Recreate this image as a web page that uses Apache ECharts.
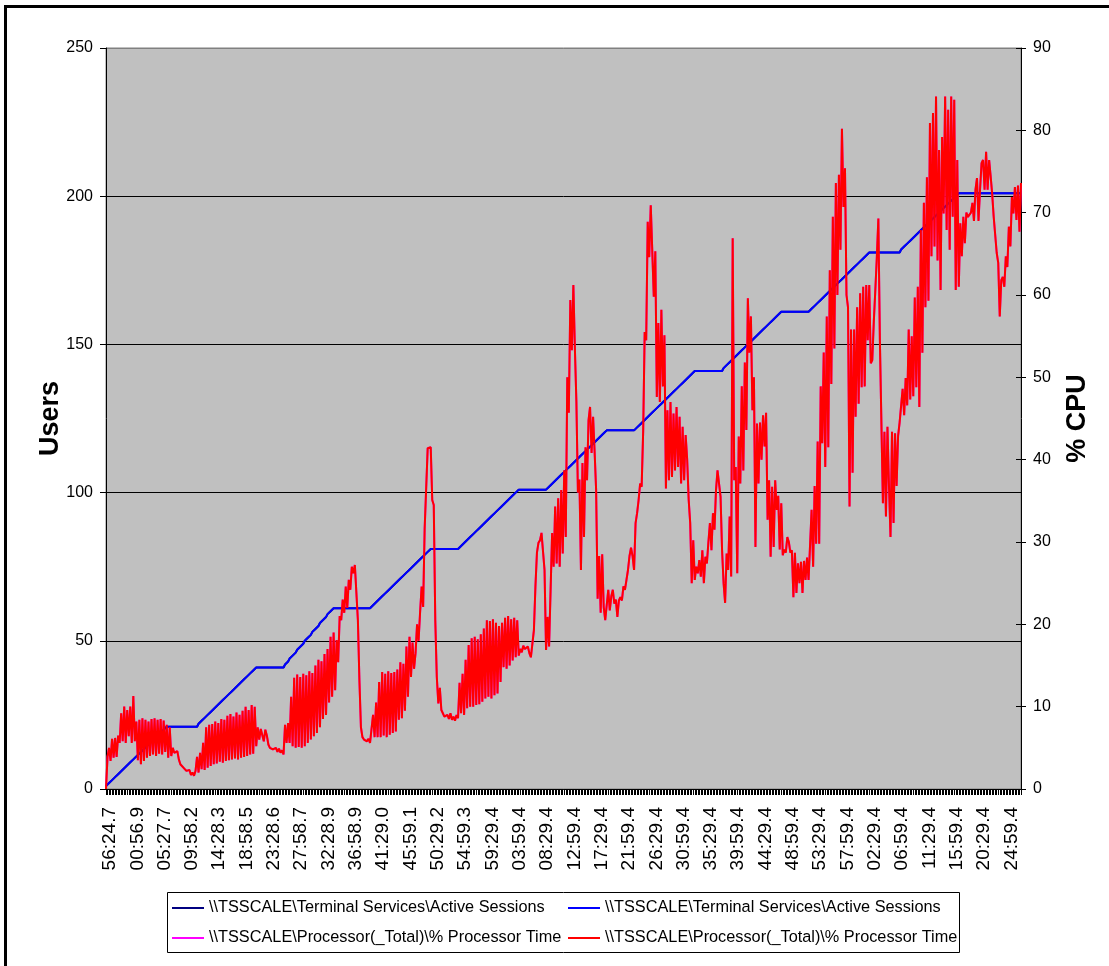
<!DOCTYPE html>
<html>
<head>
<meta charset="utf-8">
<title>TSSCALE – Active Sessions and Processor Time</title>
<script src="https://cdn.jsdelivr.net/npm/echarts@6/dist/echarts.min.js"></script>
<style>
  html, body { margin: 0; padding: 0; background: #fff; overflow: hidden; }
  #chart { width: 1109px; height: 966px; }
</style>
</head>
<body>
<div id="chart"></div>
<script>
// Time-of-sample labels shown on the category axis (one every 18 samples, 15 s apart)
const tickLabels = [
  '56:24.7', '00:56.9', '05:27.7', '09:58.2', '14:28.3', '18:58.5', '23:28.6',
  '27:58.7', '32:28.9', '36:58.9', '41:29.0', '45:59.1', '50:29.2', '54:59.3',
  '59:29.4', '03:59.4', '08:29.4', '12:59.4', '17:29.4', '21:59.4', '26:29.4',
  '30:59.4', '35:29.4', '39:59.4', '44:29.4', '48:59.4', '53:29.4', '57:59.4',
  '02:29.4', '06:59.4', '11:29.4', '15:59.4', '20:29.4', '24:59.4'
];
const samplesPerLabel = 18;

// \\TSSCALE\Terminal Services\Active Sessions (users), one value per sample
const activeSessions = [
  1,1,2,2,3,3,4,4,5,5,6,6,7,7,8,8,9,9,10,10,
  11,11,12,12,13,13,14,14,15,15,16,16,17,17,18,18,19,19,20,20,
  21,21,21,21,21,21,21,21,21,21,21,21,21,21,21,21,21,21,21,21,21,
  22,22,23,23,24,24,25,25,26,26,27,27,28,28,29,29,30,30,31,31,
  32,32,33,33,34,34,35,35,36,36,37,37,38,38,39,39,40,40,
  41,41,41,41,41,41,41,41,41,41,41,41,41,41,41,41,41,41,41,
  42,42,43,44,44,45,45,46,47,47,48,48,49,50,50,51,51,52,53,53,
  54,54,55,56,56,57,57,58,59,59,60,60,61,61,61,
  61,61,61,61,61,61,61,61,61,61,61,61,61,61,61,61,61,61,61,61,61,61,61,
  62,62,63,63,64,64,65,65,66,66,67,67,68,68,69,69,70,70,71,71,
  72,72,73,73,74,74,75,75,76,76,77,77,78,78,79,79,80,80,81,
  81,81,81,81,81,81,81,81,81,81,81,81,81,81,81,81,81,81,81,
  82,82,83,83,84,84,85,85,86,86,87,87,88,88,89,89,90,90,91,91,
  92,92,93,93,94,94,95,95,96,96,97,97,98,98,99,99,100,100,101,
  101,101,101,101,101,101,101,101,101,101,101,101,101,101,101,101,101,101,101,
  102,102,103,103,104,104,105,105,106,106,107,107,108,108,109,109,110,110,111,111,
  112,112,113,113,114,114,115,115,116,116,117,117,118,118,119,119,120,120,121,
  121,121,121,121,121,121,121,121,121,121,121,121,121,121,121,121,121,121,121,
  122,122,123,123,124,124,125,125,126,126,127,127,128,128,129,129,130,130,131,131,
  132,132,133,133,134,134,135,135,136,136,137,137,138,138,139,139,140,140,141,
  141,141,141,141,141,141,141,141,141,141,141,141,141,141,141,141,141,141,
  142,142,143,143,144,144,145,145,146,146,147,147,148,148,149,149,150,150,151,151,
  152,152,153,153,154,154,155,155,156,156,157,157,158,158,159,159,160,160,161,
  161,161,161,161,161,161,161,161,161,161,161,161,161,161,161,161,161,161,161,
  162,162,163,163,164,164,165,165,166,166,167,167,168,168,169,169,170,170,171,171,
  172,172,173,173,174,174,175,175,176,176,177,177,178,178,179,179,180,180,181,
  181,181,181,181,181,181,181,181,181,181,181,181,181,181,181,181,181,181,181,181,
  182,182,183,183,184,184,185,185,186,186,187,187,188,188,189,189,190,190,191,191,
  192,192,193,193,194,194,195,195,196,196,197,197,198,198,199,199,200,200,201,
  201,201,201,201,201,201,201,201,201,201,201,201,201,201,201,201,201,201,201,201,
  201,201,201,201,201,201,201,201,201,201,201,201,201,201,201,201,201,201,201,201,201
];

// \\TSSCALE\Processor(_Total)\% Processor Time (%), one value per sample
const processorTime = [
  0, 3.9, 5.0, 3.4, 6.1, 3.8, 6.2, 3.9, 6.5, 5.6,
  9.2, 5.8, 10.0, 5.6, 9.6, 6.4, 10.0, 5.6, 11.3, 5.8,
  8.2, 3.5, 8.4, 3.0, 8.6, 3.4, 8.4, 3.8, 8.2, 4.0,
  8.5, 4.2, 8.6, 4.0, 8.4, 4.3, 8.5, 4.2, 8.3, 4.5,
  7.8, 3.8, 7.5, 4.0, 5.0, 4.4, 4.2, 4.6, 3.6, 3.0,
  2.8, 2.6, 2.4, 2.2, 2.0, 2.3, 1.7, 2.0, 1.6, 2.2,
  3.9, 2.0, 4.4, 2.4, 5.6, 2.3, 7.5, 2.6, 7.8, 2.8,
  7.9, 3.0, 8.2, 3.1, 8.0, 3.3, 8.5, 3.2, 8.4, 3.4,
  8.9, 3.5, 9.1, 3.6, 8.8, 3.7, 9.3, 3.6, 9.0, 3.8,
  9.5, 3.9, 10.0, 4.0, 9.6, 4.2, 10.2, 4.3, 10.0, 5.2,
  7.5, 6.0, 7.3, 7.4, 5.8, 7.2, 6.5, 5.4, 5.0, 5.1,
  4.8, 4.6, 5.0, 4.5, 4.9, 4.4, 4.7, 4.2, 7.8, 5.6,
  8.0, 5.6, 11.2, 5.2, 13.5, 5.0, 13.9, 5.1, 13.6, 5.0,
  14.0, 5.2, 13.8, 5.6, 14.3, 6.0, 14.1, 6.4, 15.0, 6.8,
  15.7, 7.5, 15.5, 8.5, 16.4, 9.0, 17.0, 10.5, 18.5, 11.2,
  19.0, 12.0, 18.1, 15.4, 21.0, 20.5, 23.0, 21.4, 24.6, 22.0,
  25.4, 24.2, 27.0, 26.2, 27.2, 27.0, 20.5, 13.2, 7.5, 6.3,
  6.0, 6.2, 5.8, 6.1, 5.6, 5.5, 9.0, 6.3, 10.5, 6.3,
  13.0, 6.3, 14.2, 6.5, 14.0, 6.3, 14.3, 6.6, 14.1, 6.8,
  14.2, 7.0, 14.5, 8.4, 15.4, 8.6, 15.2, 9.5, 17.3, 11.2,
  18.5, 13.6, 17.8, 14.6, 16.5, 20.0, 18.0, 21.5, 24.6, 22.1,
  31.6, 31.4, 41.4, 41.6, 41.5, 35.1, 34.5, 20.5, 13.6, 10.4,
  12.3, 9.6, 9.2, 8.8, 8.6, 9.0, 8.5, 9.2, 8.4, 8.8,
  8.3, 9.0, 8.6, 12.9, 9.2, 14.0, 9.0, 15.7, 9.8, 17.5,
  10.0, 18.3, 10.0, 18.5, 10.2, 18.2, 10.3, 18.8, 10.6, 19.5,
  11.0, 20.5, 11.2, 20.4, 11.0, 20.6, 11.4, 20.2, 11.6, 19.8,
  13.0, 20.2, 14.8, 20.8, 14.6, 21.0, 15.0, 20.6, 15.6, 20.8,
  16.0, 20.5, 16.2, 17.0, 16.6, 17.4, 17.0, 16.8, 17.3, 16.5,
  16.0, 16.2, 19.3, 24.6, 28.7, 29.9, 30.2, 31.1, 31.0, 26.6,
  16.9, 20.9, 17.3, 24.2, 31.1, 27.0, 34.3, 27.4, 35.3, 27.0,
  36.3, 28.6, 38.7, 30.6, 50.0, 45.7, 59.4, 53.3, 61.2, 53.5,
  47.0, 36.0, 37.6, 26.6, 39.6, 30.6, 41.5, 37.5, 44.8, 46.4,
  40.8, 45.2, 41.0, 36.3, 23.1, 28.3, 21.4, 28.5, 22.1, 20.5,
  20.5, 24.2, 21.7, 23.4, 24.2, 22.5, 23.0, 20.9, 22.9, 23.3,
  22.9, 24.6, 24.2, 25.4, 26.6, 28.3, 29.3, 28.3, 26.6, 32.3,
  33.5, 35.1, 37.1, 36.7, 43.4, 55.5, 54.5, 68.9, 64.6, 70.9,
  70.9, 59.8, 65.3, 47.6, 56.6, 47.0, 58.2, 48.9, 55.1, 36.5,
  46.0, 37.5, 47.0, 37.9, 45.6, 38.7, 46.4, 39.1, 45.2, 37.1,
  44.0, 37.5, 43.0, 40.0, 35.1, 32.3, 25.0, 30.2, 25.4, 27.0,
  26.2, 27.8, 25.8, 29.0, 25.0, 28.2, 27.4, 30.0, 32.3, 29.0,
  33.5, 31.5, 36.3, 38.7, 37.1, 35.5, 29.0, 25.0, 22.6, 28.6,
  26.6, 33.1, 25.8, 66.9, 37.5, 39.1, 26.2, 42.8, 37.1, 48.9,
  38.7, 51.8, 43.6, 59.6, 53.0, 57.4, 46.0, 50.0, 29.4, 44.4,
  37.1, 44.5, 40.0, 45.4, 41.6, 45.7, 32.7, 37.5, 28.2, 36.7,
  29.4, 37.5, 33.9, 35.6, 29.1, 34.7, 28.4, 29.1, 28.7, 30.6,
  30.0, 28.7, 29.0, 23.3, 28.7, 23.8, 27.4, 25.0, 27.6, 23.8,
  27.7, 25.4, 28.1, 25.4, 25.6, 33.9, 27.0, 36.8, 29.8, 42.2,
  29.8, 48.9, 42.0, 53.0, 39.1, 57.4, 41.5, 63.0, 49.2, 69.5,
  53.5, 73.6, 60.0, 74.6, 65.5, 80.2, 70.7, 75.4, 60.0, 58.5,
  34.3, 55.8, 38.4, 55.8, 45.2, 58.5, 46.8, 60.2, 48.8, 61.0,
  48.9, 61.2, 54.5, 61.2, 51.7, 52.1, 56.8, 60.6, 64.6, 69.3,
  54.5, 44.5, 34.7, 43.4, 33.1, 44.0, 36.8, 30.6, 43.4, 32.3,
  43.2, 36.8, 42.9, 44.5, 44.3, 48.6, 45.4, 49.9, 46.6, 55.8,
  47.3, 55.0, 47.7, 59.7, 48.8, 61.0, 46.4, 67.9, 53.0, 71.2,
  58.5, 74.3, 59.3, 80.9, 64.7, 82.1, 65.9, 84.1, 64.2, 77.6,
  60.6, 79.2, 69.9, 84.1, 67.9, 82.5, 65.5, 84.1, 69.5, 83.7,
  60.6, 76.4, 61.0, 68.7, 64.7, 69.5, 66.3, 70.0, 69.5, 69.5,
  70.0, 71.2, 69.0, 72.8, 74.2, 69.0, 72.8, 76.0, 76.4, 72.8,
  77.4, 72.8, 76.4, 74.4, 72.3, 69.5, 69.7, 65.1, 63.9, 57.4,
  61.8, 62.2, 61.0, 64.7, 63.4, 68.3, 65.9, 71.9, 69.9, 73.1,
  69.1, 73.3, 67.7, 73.6
];

const sessionsLabel = '\\\\TSSCALE\\Terminal Services\\Active Sessions';
const cpuLabel = '\\\\TSSCALE\\Processor(_Total)\\% Processor Time';

// Each counter is plotted twice (primary and secondary style); the trailing
// space keeps the series names distinct and is trimmed in the legend.
const names = {
  sessionsBase: sessionsLabel,
  cpuBase: cpuLabel,
  sessions: sessionsLabel + ' ',
  cpu: cpuLabel + ' '
};

const sampleIndex = processorTime.map((_, i) => String(i));

const FONT = '"Liberation Sans", Arial, Helvetica, sans-serif';
const chart = echarts.init(document.getElementById('chart'), null, { renderer: 'canvas' });

const legendCommon = {
  orient: 'vertical',
  top: 898,
  padding: 0,
  itemWidth: 32,
  itemHeight: 2,
  itemGap: 10,
  icon: 'rect',
  selectedMode: false,
  textStyle: { fontSize: 16.3, color: '#000', fontFamily: FONT, lineHeight: 20 },
  formatter: n => n.trim()
};

chart.setOption({
  animation: false,
  backgroundColor: '#ffffff',
  textStyle: { fontFamily: FONT },
  grid: {
    left: 106, top: 48, right: 88, bottom: 177,
    show: true,
    backgroundColor: '#c0c0c0',
    borderColor: '#808080',
    borderWidth: 1,
    containLabel: false,
    outerBoundsMode: 'none'
  },
  xAxis: {
    type: 'category',
    data: sampleIndex,
    boundaryGap: false,
    axisLine: { lineStyle: { color: '#000', width: 1 } },
    axisTick: { show: true, interval: 0, length: 6, lineStyle: { color: '#000', width: 1 } },
    axisLabel: {
      interval: samplesPerLabel - 1,
      rotate: 90,
      margin: 18,
      fontSize: 19,
      lineHeight: 8,
      verticalAlign: 'top',
      color: '#000',
      formatter: (v, i) => tickLabels[Math.round(i / samplesPerLabel)] || ''
    },
    splitLine: { show: false }
  },
  yAxis: [
    {
      type: 'value', min: 0, max: 250, interval: 50, position: 'left',
      name: 'Users', nameLocation: 'middle', nameGap: 42, nameRotate: 90,
      nameMoveOverlap: false,
      nameTextStyle: { fontSize: 27, fontWeight: 'bold', color: '#000', fontFamily: FONT },
      axisLine: { show: true, lineStyle: { color: '#000', width: 1 } },
      axisTick: { show: true, length: 6, lineStyle: { color: '#000' } },
      axisLabel: { fontSize: 16, color: '#000', margin: 13 },
      splitLine: { show: true, lineStyle: { color: ['#000', '#000', '#000', '#000', '#000', '#808080'], width: 1 } }
    },
    {
      type: 'value', min: 0, max: 90, interval: 10, position: 'right',
      name: '% CPU', nameLocation: 'middle', nameGap: 43, nameRotate: 90,
      nameMoveOverlap: false,
      nameTextStyle: { fontSize: 27, fontWeight: 'bold', color: '#000', fontFamily: FONT },
      axisLine: { show: true, lineStyle: { color: '#000', width: 1 } },
      axisTick: { show: true, length: 5, lineStyle: { color: '#000' } },
      axisLabel: { fontSize: 16, color: '#000', margin: 12 },
      splitLine: { show: false }
    },
    {
      // inner half of the secondary axis tick marks
      type: 'value', min: 0, max: 90, interval: 10, position: 'right',
      axisLine: { show: false },
      axisTick: { show: true, inside: true, length: 5, lineStyle: { color: '#000' } },
      axisLabel: { show: false },
      splitLine: { show: false }
    }
  ],
  legend: [
    Object.assign({}, legendCommon, { left: 172, data: [names.sessionsBase, names.cpuBase] }),
    Object.assign({}, legendCommon, { left: 568, data: [names.sessions, names.cpu] })
  ],
  series: [
    {
      name: names.sessionsBase, type: 'line', yAxisIndex: 0, data: activeSessions,
      symbol: 'none', z: 1,
      lineStyle: { color: '#000080', width: 2 }, itemStyle: { color: '#000080' }
    },
    {
      name: names.cpuBase, type: 'line', yAxisIndex: 1, data: processorTime,
      symbol: 'none', z: 1,
      lineStyle: { color: '#ff00ff', width: 2 }, itemStyle: { color: '#ff00ff' }
    },
    {
      name: names.sessions, type: 'line', yAxisIndex: 0, data: activeSessions,
      symbol: 'none', z: 2,
      lineStyle: { color: '#0000ff', width: 2 }, itemStyle: { color: '#0000ff' }
    },
    {
      name: names.cpu, type: 'line', yAxisIndex: 1, data: processorTime,
      symbol: 'none', z: 3,
      lineStyle: { color: '#ff0000', width: 2 }, itemStyle: { color: '#ff0000' }
    }
  ],
  graphic: [
    {
      type: 'rect', silent: true, z: 100,
      shape: { x: 167.5, y: 892.5, width: 792, height: 60 },
      style: { fill: 'none', stroke: '#000', lineWidth: 1 }
    },
    {
      type: 'rect', silent: true, z: 100,
      shape: { x: 5.5, y: 6.5, width: 1200, height: 1100 },
      style: { fill: 'none', stroke: '#000', lineWidth: 3 }
    }
  ]
});
</script>
</body>
</html>
